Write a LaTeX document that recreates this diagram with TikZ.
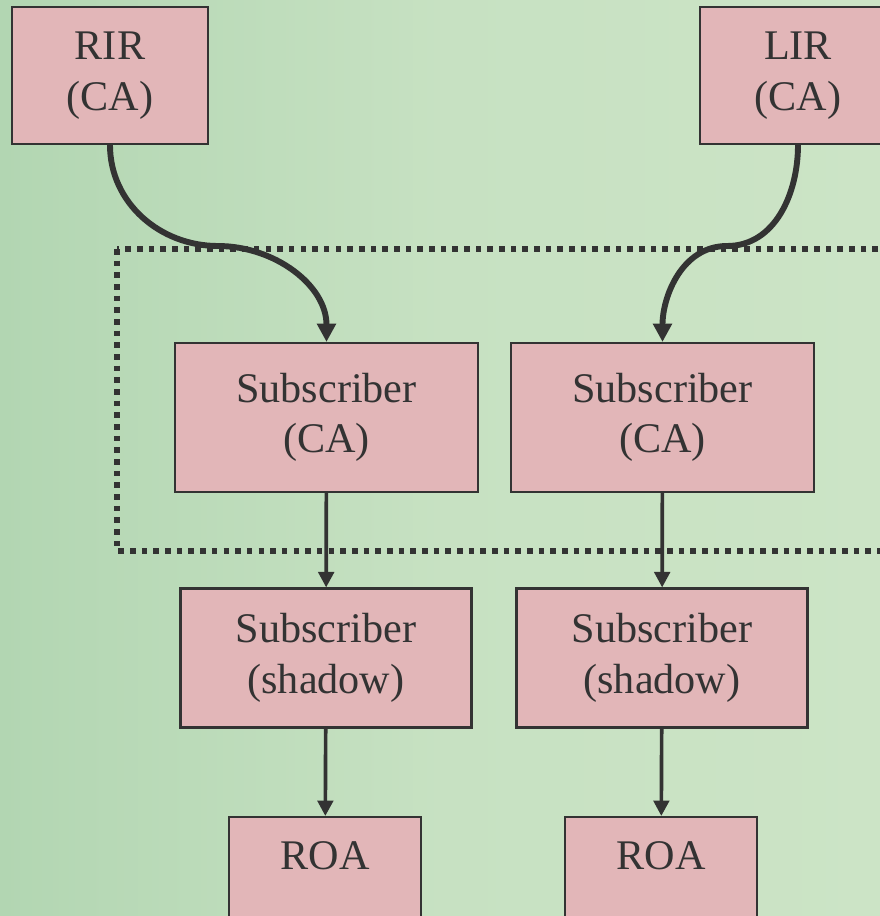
\documentclass[tikz,border=0pt]{standalone}
\usepackage{fontspec}
\setmainfont{Liberation Serif}
\usetikzlibrary{arrows.meta}

\definecolor{boxpink}{RGB}{226,182,184}
\definecolor{ink}{RGB}{51,51,51}
\definecolor{moss}{RGB}{178,214,178}
\definecolor{mint}{RGB}{204,228,198}

\tikzset{
  block/.style={draw=ink, line width=1.5pt, fill=boxpink, text=ink,
    align=center, inner sep=0pt, font=\fontsize{30}{36}\selectfont},
  chain/.style={ink, line width=4.2pt, -{Triangle[length=13pt,width=13pt]}},
  feed/.style={ink, line width=2.6pt, -{Triangle[length=11pt,width=11pt]}}
}

\begin{document}
\begin{tikzpicture}[x=0.025cm, y=-0.025cm]
  \useasboundingbox (0,0) rectangle (880,916);
  \shade[left color=moss, right color=mint, middle color=mint!80!moss]
     (0,0) rectangle (880,916);

  % CA group
  \draw[ink, line width=4pt, dash pattern=on 4pt off 4.3pt]
     (117,249) rectangle (960,551);

  \node[block, minimum width=4.9cm, minimum height=3.425cm] (rir) at (110,75.5) {RIR\\(CA)};
  \node[block, minimum width=4.9cm, minimum height=3.425cm] (lir) at (798,75.5) {LIR\\(CA)};

  \node[block, minimum width=7.575cm, minimum height=3.725cm] (subl) at (326.5,417.5) {Subscriber\\(CA)};
  \node[block, minimum width=7.575cm, minimum height=3.725cm] (subr) at (662.5,417.5) {Subscriber\\(CA)};

  \node[block, minimum width=7.275cm, minimum height=3.475cm] (shl) at (326,658) {Subscriber\\(shadow)};
  \node[block, minimum width=7.275cm, minimum height=3.475cm] (shr) at (662,658) {Subscriber\\(shadow)};

  \node[block, minimum width=4.8cm, minimum height=3.425cm, anchor=north] (roal) at (325,816) {ROA\\\phantom{(CA)}};
  \node[block, minimum width=4.8cm, minimum height=3.425cm, anchor=north] (roar) at (661,816) {ROA\\\phantom{(CA)}};

  % certificate chains
  \coordinate (kinkl) at (218,246);
  \coordinate (kinkr) at (727,246);
  \draw[chain] (rir.south) to[out=-90,in=180] (kinkl) to[out=0,in=90] (subl.north);
  \draw[chain] (lir.south) to[out=-90,in=0] (kinkr) to[out=180,in=90] (subr.north);

  \draw[feed] (subl) -- (shl);
  \draw[feed] (subr) -- (shr);
  \draw[feed] (shl) -- (roal);
  \draw[feed] (shr) -- (roar);

\end{tikzpicture}
\end{document}
